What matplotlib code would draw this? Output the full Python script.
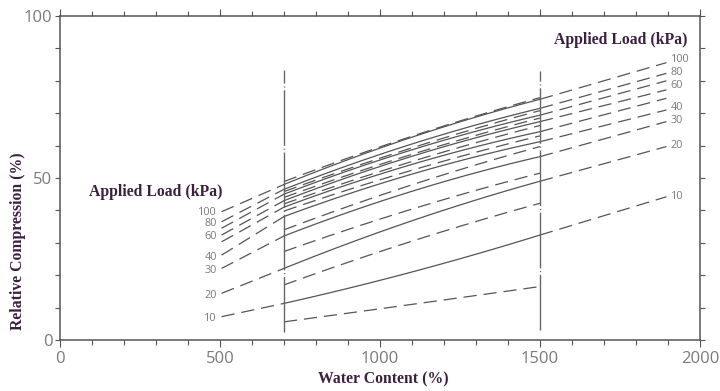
import matplotlib
matplotlib.use("Agg")
import matplotlib.pyplot as plt
import numpy as np

plt.rcParams['lines.scale_dashes'] = False

# ---- data ----
left_x = [505, 700]
left_y = [[39.6, 48.0], [36.5, 46.5], [34.5, 45.0], [32.4, 43.0], [30.3, 41.0],
          [26.2, 38.1], [22.1, 32.1], [14.4, 22.1], [7.2, 11.3]]

mid_x = [700, 1100, 1500]
mid_solid = [[48.0, 62.6, 74.3], [46.5, 60.5, 71.5], [45.0, 58.7, 69.4],
             [43.0, 56.7, 67.4], [41.0, 54.2, 64.3], [38.1, 51.2, 61.2],
             [32.1, 45.9, 56.6], [22.1, 36.8, 49.0], [11.3, 21.0, 32.4]]
mid_dashed = [[48.9, 62.9, 74.8], [45.8, 59.3, 70.8], [44.0, 57.3, 68.5],
              [42.0, 55.1, 66.2], [39.8, 52.4, 63.0], [34.0, 47.9, 59.7],
              [27.3, 40.4, 51.5], [17.0, 30.5, 42.2], [5.6, 11.0, 16.5]]

right_x = [1500, 1895]
right_y = [[74.3, 85.6], [71.5, 82.3], [69.4, 80.0], [67.4, 77.2], [64.3, 74.6],
           [61.2, 71.0], [56.6, 67.4], [49.0, 59.7], [32.4, 44.2]]

left_labels = ['100', '80', '', '60', '', '40', '30', '20', '10']
left_label_shift = [-0.3, -0.6, 0, -0.6, 0, -0.6, -0.6, -0.6, -0.6]
right_labels = ['100', '80', '60', '', '', '40', '30', '20', '10']
right_label_shift = [0.9, 0.2, -1.3, 0, 0, 0.7, 0.2, 0.2, 0.2]

vlines_x = [700, 1500]
vlines_y = [[2.6, 83.3], [3.0, 83.0]]

xticks_major = [0, 500, 1000, 1500, 2000]
yticks_major = [0, 50, 100]

# ---- styles ----
line_col = '#555555'
txt_col = '#7a7a7a'
title_col = '#3b1f3f'
dash = (0, (9.5, 5.0))
tick_font = 'Open Sans'

fig = plt.figure(figsize=(7.2, 3.91), dpi=100)
ax = fig.add_axes([60/720, 1-340/391, 640/720, 324/391])


def smooth(xs, ys):
    """Draw a smooth quadratic through the three read points."""
    c = np.polyfit(xs, ys, 2)
    xx = np.linspace(xs[0], xs[-1], 60)
    return xx, np.polyval(c, xx)


for ys in left_y:
    ax.plot(left_x, ys, color=line_col, lw=0.9, linestyle=dash)
for ys in mid_solid:
    ax.plot(*smooth(mid_x, ys), color=line_col, lw=0.9, linestyle='-')
for ys in mid_dashed:
    ax.plot(*smooth(mid_x, ys), color=line_col, lw=0.9, linestyle=dash)
for ys in right_y:
    ax.plot(right_x, ys, color=line_col, lw=0.9, linestyle=dash)

for xv, yy in zip(vlines_x, vlines_y):
    ax.plot([xv, xv], yy, color='#666666', lw=1.0, linestyle=(0, (40, 2, 0.8, 2)))

for lab, ys, sh in zip(left_labels, left_y, left_label_shift):
    if lab:
        ax.text(490, ys[0] + sh, lab, ha='right', va='center', fontsize=7.8,
                color=txt_col, family=tick_font)
for lab, ys, sh in zip(right_labels, right_y, right_label_shift):
    if lab:
        ax.text(1908, ys[1] + sh, lab, ha='left', va='center', fontsize=7.8,
                color=txt_col, family=tick_font)

ax.text(300, 45.7, 'Applied Load (kPa)', ha='center', va='center', fontsize=11.3,
        fontweight='bold', family='Liberation Serif', color=title_col)
ax.text(1753, 92.6, 'Applied Load (kPa)', ha='center', va='center', fontsize=11.3,
        fontweight='bold', family='Liberation Serif', color=title_col)

ax.set_xlim(0, 2000)
ax.set_ylim(0, 100)
ax.set_xticks(xticks_major)
ax.set_xticks(np.arange(0, 2001, 100), minor=True)
ax.set_yticks(yticks_major)
ax.set_yticks(np.arange(0, 101, 10), minor=True)
ax.tick_params(which='both', direction='out', length=3.5, width=0.8, color='#555555',
               top=True, right=True, labelsize=12, labelcolor=txt_col, pad=2)
ax.tick_params(axis='x', which='major', length=5, pad=3)
for lbl in ax.get_xticklabels() + ax.get_yticklabels():
    lbl.set_family(tick_font)

for sp in ax.spines.values():
    sp.set_color('#555555')
    sp.set_linewidth(1.1)

ax.set_xlabel('Water Content (%)', fontsize=11.3, fontweight='bold',
              family='Liberation Serif', color=title_col)
ax.set_ylabel('Relative Compression (%)', fontsize=11.3, fontweight='bold',
              family='Liberation Serif', color=title_col)
ax.xaxis.set_label_coords(0.505, -0.123)
ax.xaxis.label.set_verticalalignment('center')
ax.yaxis.set_label_coords(-0.053, 0.305)

fig.savefig('out.png', dpi=100)
